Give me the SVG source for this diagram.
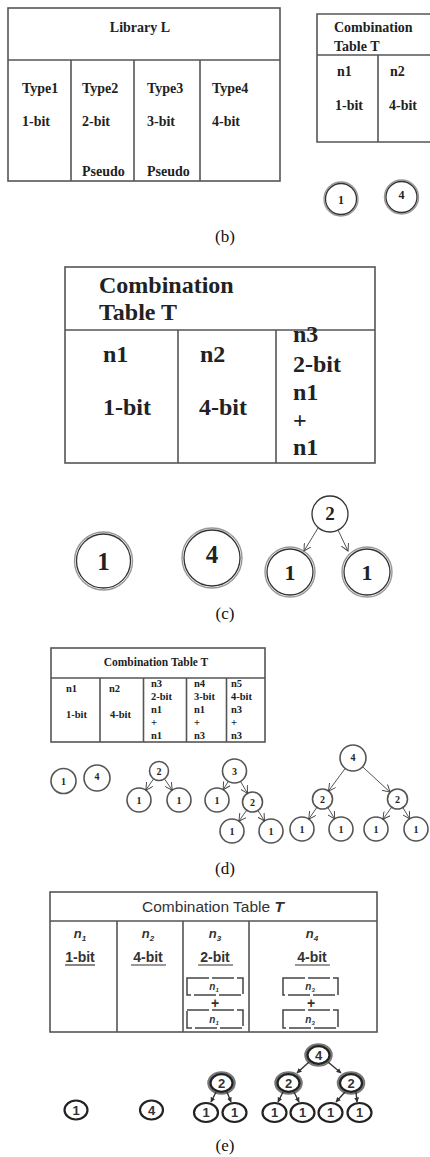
<svg xmlns="http://www.w3.org/2000/svg" width="430" height="1157" viewBox="0 0 430 1157">
<style>
.sb{font-family:"Liberation Serif","Times New Roman",serif;font-weight:bold;fill:#222}
.cap{font-family:"Liberation Serif","Times New Roman",serif;font-size:17px;fill:#111}
.tb{fill:none;stroke:#555;stroke-width:1.6}
.ss{font-family:"Liberation Sans",Arial,sans-serif;fill:#333}
.ssb{font-family:"Liberation Sans",Arial,sans-serif;font-weight:bold;fill:#333}
.ni{font-family:"Liberation Sans",Arial,sans-serif;font-weight:bold;font-style:italic;fill:#333}
.c2{fill:#fff;stroke:#333;stroke-width:1.3}
.c2o{fill:none;stroke:#999;stroke-width:1.4}
.cd{fill:#fff;stroke:#555;stroke-width:1.6}
.ce{fill:#fff;stroke:#222;stroke-width:2.2}
.ceh{fill:#fff;stroke:#777;stroke-width:4.5}
.arr{fill:none;stroke:#555;stroke-width:1;marker-end:url(#va)}
.arre{fill:none;stroke:#333;stroke-width:1.4;marker-end:url(#sa)}
.dbox{fill:#fff;stroke:#444;stroke-width:1.5;stroke-dasharray:22 3}
.ul{stroke:#333;stroke-width:1.2}
</style>
<defs>
<marker id="va" viewBox="0 0 10 10" refX="9" refY="5" markerWidth="8" markerHeight="8" orient="auto" markerUnits="userSpaceOnUse">
<path d="M0,0 L9,5 L0,10" fill="none" stroke="#444" stroke-width="1.2"/>
</marker>
<marker id="sa" viewBox="0 0 10 10" refX="9" refY="5" markerWidth="5" markerHeight="5" orient="auto" markerUnits="userSpaceOnUse">
<path d="M0,0 L10,5 L0,10 z" fill="#333"/>
</marker>
</defs>
<rect width="430" height="1157" fill="#fff"/>

<!-- Panel (b) -->
<g id="library-L">
<rect class="tb" x="8" y="8" width="272" height="173"/>
<line class="tb" x1="8" y1="60" x2="280" y2="60"/>
<line class="tb" x1="71" y1="60" x2="71" y2="181"/>
<line class="tb" x1="134" y1="60" x2="134" y2="181"/>
<line class="tb" x1="200" y1="60" x2="200" y2="181"/>
<text class="sb" font-size="14" x="140" y="32" text-anchor="middle">Library L</text>
<g font-size="14">
<text class="sb" x="22" y="93">Type1</text><text class="sb" x="22" y="126">1-bit</text>
<text class="sb" x="82" y="93">Type2</text><text class="sb" x="82" y="126">2-bit</text><text class="sb" x="82" y="176">Pseudo</text>
<text class="sb" x="147" y="93">Type3</text><text class="sb" x="147" y="126">3-bit</text><text class="sb" x="147" y="176">Pseudo</text>
<text class="sb" x="212" y="93">Type4</text><text class="sb" x="212" y="126">4-bit</text>
</g>
</g>
<g id="comb-table-b">
<path class="tb" d="M432,14 H317 V142 H432 M317,55 H432 M378,55 V142"/>
<g font-size="14">
<text class="sb" x="334" y="32">Combination</text>
<text class="sb" x="334" y="51">Table T</text>
<text class="sb" x="337" y="76">n1</text><text class="sb" x="335" y="110">1-bit</text>
<text class="sb" x="390" y="76">n2</text><text class="sb" x="389" y="110">4-bit</text>
</g>
</g>
<g id="b-node-1"><circle class="c2o" cx="341" cy="199" r="17"/><circle class="c2" cx="341" cy="199" r="15.5"/><text class="sb" font-size="12" x="341" y="203.5" text-anchor="middle">1</text></g>
<g id="b-node-4"><circle class="c2o" cx="401.5" cy="197" r="17"/><circle class="c2" cx="401.5" cy="197" r="15.5"/><text class="sb" font-size="12" x="401.5" y="199" text-anchor="middle">4</text></g>
<text class="cap" x="225" y="242" text-anchor="middle">(b)</text>

<!-- Panel (c) -->
<g id="comb-table-c">
<rect class="tb" x="65" y="267" width="310" height="196" stroke-width="2"/>
<line class="tb" x1="65" y1="330" x2="375" y2="330" stroke-width="2"/>
<line class="tb" x1="178" y1="330" x2="178" y2="463" stroke-width="2"/>
<line class="tb" x1="276" y1="330" x2="276" y2="463" stroke-width="2"/>
<g font-size="24">
<text class="sb" x="99" y="293">Combination</text>
<text class="sb" x="99" y="320">Table T</text>
<text class="sb" x="103" y="362">n1</text><text class="sb" x="103" y="415">1-bit</text>
<text class="sb" x="200" y="362">n2</text><text class="sb" x="199" y="415">4-bit</text>
<text class="sb" x="293" y="342">n3</text><text class="sb" x="293" y="372">2-bit</text>
<text class="sb" x="293" y="400">n1</text><text class="sb" x="293" y="428">+</text><text class="sb" x="293" y="455">n1</text>
</g>
</g>
<g id="c-node-1"><circle class="c2o" cx="103.5" cy="561" r="29"/><circle class="c2" cx="103.5" cy="561" r="27" stroke-width="1.6"/><text class="sb" font-size="25" x="103.5" y="570" text-anchor="middle">1</text></g>
<g id="c-node-4"><circle class="c2o" cx="212" cy="558" r="30"/><circle class="c2" cx="212" cy="558" r="28" stroke-width="1.6"/><text class="sb" font-size="25" x="212" y="563" text-anchor="middle">4</text></g>
<g id="c-tree2-root"><circle class="c2" cx="330" cy="514" r="18"/><text class="sb" font-size="19" x="330" y="520" text-anchor="middle">2</text></g>
<g id="c-tree2-left"><circle class="c2o" cx="290" cy="572" r="25"/><circle class="c2" cx="290" cy="572" r="23" stroke-width="1.6"/><text class="sb" font-size="22" x="290" y="580" text-anchor="middle">1</text></g>
<g id="c-tree2-right"><circle class="c2o" cx="367" cy="572" r="25"/><circle class="c2" cx="367" cy="572" r="23" stroke-width="1.6"/><text class="sb" font-size="22" x="367" y="580" text-anchor="middle">1</text></g>
<g id="c-connectors">
<path class="arr" d="M318,528 L304,551"/>
<path class="arr" d="M338,530 L348,551"/>
</g>
<text class="cap" x="225" y="619" text-anchor="middle">(c)</text>

<!-- Panel (d) -->
<g id="comb-table-d">
<rect class="tb" x="51" y="648" width="214" height="94" stroke-width="1.3"/>
<line class="tb" x1="51" y1="678" x2="265" y2="678" stroke-width="1.3"/>
<line class="tb" x1="100" y1="678" x2="100" y2="742" stroke-width="1.3"/>
<line class="tb" x1="143.5" y1="678" x2="143.5" y2="742" stroke-width="1.3"/>
<line class="tb" x1="186.5" y1="678" x2="186.5" y2="742" stroke-width="1.3"/>
<line class="tb" x1="226.5" y1="678" x2="226.5" y2="742" stroke-width="1.3"/>
<g font-size="10.5">
<text class="sb" x="156" y="666" text-anchor="middle" font-size="11.5">Combination Table T</text>
<text class="sb" x="66" y="692">n1</text><text class="sb" x="66" y="718">1-bit</text>
<text class="sb" x="109" y="692">n2</text><text class="sb" x="110" y="718">4-bit</text>
<text class="sb" x="151" y="687">n3</text><text class="sb" x="151" y="700">2-bit</text><text class="sb" x="151" y="713">n1</text><text class="sb" x="151" y="726">+</text><text class="sb" x="151" y="739">n1</text>
<text class="sb" x="194" y="687">n4</text><text class="sb" x="194" y="700">3-bit</text><text class="sb" x="194" y="713">n1</text><text class="sb" x="194" y="726">+</text><text class="sb" x="194" y="739">n3</text>
<text class="sb" x="231" y="687">n5</text><text class="sb" x="231" y="700">4-bit</text><text class="sb" x="231" y="713">n3</text><text class="sb" x="231" y="726">+</text><text class="sb" x="231" y="739">n3</text>
</g>
</g>
<g font-size="10">
<g id="d-node-1"><circle class="cd" cx="63.5" cy="781" r="12.5"/><text class="sb" x="63.5" y="785" text-anchor="middle">1</text></g>
<g id="d-node-4"><circle class="cd" cx="97" cy="778" r="13"/><text class="sb" x="97" y="780" text-anchor="middle">4</text></g>
<g id="d-t2-root"><circle class="cd" cx="159" cy="771" r="9.5" stroke-width="1.1"/><text class="sb" x="159" y="774.5" text-anchor="middle">2</text></g>
<g id="d-t2-l"><circle class="cd" cx="139" cy="800" r="12"/><text class="sb" x="139" y="804" text-anchor="middle">1</text></g>
<g id="d-t2-r"><circle class="cd" cx="179" cy="800" r="12"/><text class="sb" x="179" y="804" text-anchor="middle">1</text></g>
<g id="d-t3-root"><circle class="cd" cx="234.5" cy="771" r="12" stroke-width="1.1"/><text class="sb" x="234.5" y="774.5" text-anchor="middle">3</text></g>
<g id="d-t3-l"><circle class="cd" cx="217" cy="800" r="12" stroke-width="1.1"/><text class="sb" x="217" y="804" text-anchor="middle">1</text></g>
<g id="d-t3-r"><circle class="cd" cx="252.5" cy="802" r="10" stroke-width="1.1"/><text class="sb" x="252.5" y="805.5" text-anchor="middle">2</text></g>
<g id="d-t3-rl"><circle class="cd" cx="232" cy="831" r="12"/><text class="sb" x="232" y="835" text-anchor="middle">1</text></g>
<g id="d-t3-rr"><circle class="cd" cx="271" cy="831" r="12"/><text class="sb" x="271" y="835" text-anchor="middle">1</text></g>
<g id="d-t4-root"><circle class="cd" cx="353" cy="758" r="13" stroke-width="2"/><text class="sb" x="353" y="761" text-anchor="middle">4</text></g>
<g id="d-t4-l"><circle class="cd" cx="322.5" cy="799" r="10" stroke-width="1.1"/><text class="sb" x="322.5" y="802.5" text-anchor="middle">2</text></g>
<g id="d-t4-r"><circle class="cd" cx="397.5" cy="799" r="10" stroke-width="1.1"/><text class="sb" x="397.5" y="802.5" text-anchor="middle">2</text></g>
<g id="d-t4-ll"><circle class="cd" cx="302" cy="829" r="12"/><text class="sb" x="302" y="833" text-anchor="middle">1</text></g>
<g id="d-t4-lr"><circle class="cd" cx="341" cy="829" r="12"/><text class="sb" x="341" y="833" text-anchor="middle">1</text></g>
<g id="d-t4-rl"><circle class="cd" cx="376" cy="829" r="12"/><text class="sb" x="376" y="833" text-anchor="middle">1</text></g>
<g id="d-t4-rr"><circle class="cd" cx="416" cy="829" r="12"/><text class="sb" x="416" y="833" text-anchor="middle">1</text></g>
</g>
<g id="d-connectors">
<path class="arr" d="M153.6,778.8 L145.8,790.1"/>
<path class="arr" d="M164.4,778.8 L172.2,790.1"/>
<path class="arr" d="M228.3,781.3 L223.2,789.7"/>
<path class="arr" d="M240.5,781.4 L247.5,793.3"/>
<path class="arr" d="M246.7,810.2 L238.9,821.2"/>
<path class="arr" d="M257.9,810.4 L264.5,820.9"/>
<path class="arr" d="M345.2,768.4 L328.5,791"/>
<path class="arr" d="M362.6,766.8 L390.1,792.2"/>
<path class="arr" d="M316.9,807.3 L308.8,819.1"/>
<path class="arr" d="M327.8,807.5 L334.7,818.8"/>
<path class="arr" d="M391.7,807.1 L383,819.2"/>
<path class="arr" d="M402.8,807.5 L409.7,818.8"/>
</g>
<text class="cap" x="225" y="874" text-anchor="middle">(d)</text>

<!-- Panel (e) -->
<g id="comb-table-e">
<rect class="tb" x="50" y="892" width="327" height="140" stroke="#444" stroke-width="1.8"/>
<line class="tb" x1="50" y1="921" x2="377" y2="921" stroke="#444" stroke-width="1.8"/>
<line class="tb" x1="117" y1="921" x2="117" y2="1032" stroke="#444" stroke-width="1.8"/>
<line class="tb" x1="183" y1="921" x2="183" y2="1032" stroke="#444" stroke-width="1.8"/>
<line class="tb" x1="249" y1="921" x2="249" y2="1032" stroke="#444" stroke-width="1.8"/>
<text class="ss" font-size="15.5" x="213" y="912" text-anchor="middle">Combination Table <tspan font-style="italic" font-weight="bold">T</tspan></text>
<text class="ni" font-size="13" x="80" y="938" text-anchor="middle">n<tspan font-size="8" dy="3">1</tspan></text>
<text class="ni" font-size="13" x="148" y="938" text-anchor="middle">n<tspan font-size="8" dy="3">2</tspan></text>
<text class="ni" font-size="13" x="215" y="938" text-anchor="middle">n<tspan font-size="8" dy="3">3</tspan></text>
<text class="ni" font-size="13" x="312" y="938" text-anchor="middle">n<tspan font-size="8" dy="3">4</tspan></text>
<g font-size="14">
<text class="ssb" x="80" y="962" text-anchor="middle">1-bit</text>
<text class="ssb" x="148" y="962" text-anchor="middle">4-bit</text>
<text class="ssb" x="215" y="962" text-anchor="middle">2-bit</text>
<text class="ssb" x="312" y="962" text-anchor="middle">4-bit</text>
</g>
<line class="ul" x1="65" y1="965" x2="95" y2="965"/>
<line class="ul" x1="131" y1="965" x2="166" y2="965"/>
<line class="ul" x1="198" y1="965" x2="233" y2="965"/>
<line class="ul" x1="295" y1="965" x2="330" y2="965"/>
<rect class="dbox" x="187" y="978" width="56" height="17"/>
<rect class="dbox" x="187" y="1010" width="56" height="18"/>
<rect class="dbox" x="283" y="978" width="55" height="17"/>
<rect class="dbox" x="283" y="1010" width="55" height="18"/>
<text class="ni" font-size="10" x="214" y="990" text-anchor="middle">n<tspan font-size="6" dy="2">1</tspan></text>
<text class="ni" font-size="10" x="214" y="1023" text-anchor="middle">n<tspan font-size="6" dy="2">1</tspan></text>
<text class="ni" font-size="10" x="310" y="990" text-anchor="middle">n<tspan font-size="6" dy="2">3</tspan></text>
<text class="ni" font-size="10" x="310" y="1023" text-anchor="middle">n<tspan font-size="6" dy="2">3</tspan></text>
<text class="ssb" font-size="14" x="215" y="1008" text-anchor="middle">+</text>
<text class="ssb" font-size="14" x="311" y="1008" text-anchor="middle">+</text>
</g>
<g font-size="13">
<g id="e-node-1"><ellipse class="ce" cx="76" cy="1110" rx="11.5" ry="9.5"/><text class="ssb" fill="#111" x="76" y="1114.5" text-anchor="middle">1</text></g>
<g id="e-node-4"><ellipse class="ce" cx="151.5" cy="1110" rx="11.5" ry="9.5"/><text class="ssb" fill="#111" x="151.5" y="1114.5" text-anchor="middle">4</text></g>
<g id="e-t2-root"><ellipse class="ceh" cx="221.5" cy="1083" rx="12" ry="9.5"/><ellipse class="ce" cx="221.5" cy="1083" rx="11" ry="8.8" stroke-width="1.6"/><text class="ssb" fill="#111" x="221.5" y="1087.5" text-anchor="middle">2</text></g>
<g id="e-t2-l"><ellipse class="ce" cx="206" cy="1112.5" rx="12" ry="9.5"/><text class="ssb" fill="#111" x="206" y="1117" text-anchor="middle">1</text></g>
<g id="e-t2-r"><ellipse class="ce" cx="234.5" cy="1112.5" rx="12" ry="9.5"/><text class="ssb" fill="#111" x="234.5" y="1117" text-anchor="middle">1</text></g>
<g id="e-t4-root"><ellipse class="ceh" cx="318.5" cy="1055" rx="12" ry="9.5"/><ellipse class="ce" cx="318.5" cy="1055" rx="11" ry="8.8" stroke-width="1.6"/><text class="ssb" fill="#111" x="318.5" y="1059.5" text-anchor="middle">4</text></g>
<g id="e-t4-l"><ellipse class="ceh" cx="288.5" cy="1083" rx="12" ry="9.5"/><ellipse class="ce" cx="288.5" cy="1083" rx="11" ry="8.8" stroke-width="1.6"/><text class="ssb" fill="#111" x="288.5" y="1087.5" text-anchor="middle">2</text></g>
<g id="e-t4-r"><ellipse class="ceh" cx="351" cy="1083" rx="12" ry="9.5"/><ellipse class="ce" cx="351" cy="1083" rx="11" ry="8.8" stroke-width="1.6"/><text class="ssb" fill="#111" x="351" y="1087.5" text-anchor="middle">2</text></g>
<g id="e-t4-ll"><ellipse class="ce" cx="274.5" cy="1112.5" rx="12" ry="9.5"/><text class="ssb" fill="#111" x="274.5" y="1117" text-anchor="middle">1</text></g>
<g id="e-t4-lr"><ellipse class="ce" cx="302.5" cy="1112.5" rx="12" ry="9.5"/><text class="ssb" fill="#111" x="302.5" y="1117" text-anchor="middle">1</text></g>
<g id="e-t4-rl"><ellipse class="ce" cx="330.5" cy="1112.5" rx="12" ry="9.5"/><text class="ssb" fill="#111" x="330.5" y="1117" text-anchor="middle">1</text></g>
<g id="e-t4-rr"><ellipse class="ce" cx="359.5" cy="1112.5" rx="12" ry="9.5"/><text class="ssb" fill="#111" x="359.5" y="1117" text-anchor="middle">1</text></g>
</g>
<g id="e-connectors">
<path class="arre" d="M216,1092 L211,1102"/>
<path class="arre" d="M227,1092 L231,1102"/>
<path class="arre" d="M309,1062 L297,1073"/>
<path class="arre" d="M328,1062 L341,1073"/>
<path class="arre" d="M283,1092 L278,1102"/>
<path class="arre" d="M294,1092 L299,1102"/>
<path class="arre" d="M345,1092 L336,1102"/>
<path class="arre" d="M356,1092 L357,1102"/>
</g>
<text class="cap" x="225" y="1151" text-anchor="middle">(e)</text>
</svg>
